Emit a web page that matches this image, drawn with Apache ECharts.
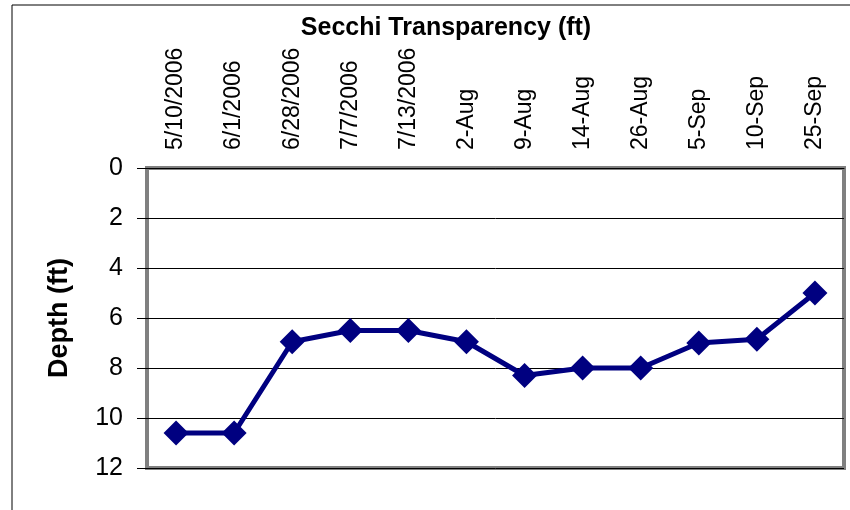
<!DOCTYPE html>
<html>
<head>
<meta charset="utf-8">
<script src="https://cdn.jsdelivr.net/npm/echarts@6/dist/echarts.min.js"></script>
<style>
  html, body { margin: 0; padding: 0; background: #fff; }
  #chart { width: 850px; height: 510px; }
</style>
</head>
<body>
<div id="chart"></div>
<script>
// sampling dates
const dates = ['5/10/2006', '6/1/2006', '6/28/2006', '7/7/2006', '7/13/2006', '2-Aug',
  '9-Aug', '14-Aug', '26-Aug', '5-Sep', '10-Sep', '25-Sep'];
// secchi depth in feet
const depth = [10.6, 10.6, 6.95, 6.5, 6.5, 6.95, 8.3, 8.0, 8.0, 7.0, 6.85, 5.0];

const chart = echarts.init(document.getElementById('chart'));
chart.setOption({
  animation: false,
  backgroundColor: '#fff',
  title: {
    text: 'Secchi Transparency (ft)',
    left: 441, top: 11, textAlign: 'center',
    textStyle: { fontFamily: 'Liberation Sans, Arial', fontSize: 25, fontWeight: 'bold', color: '#000' }
  },
  graphic: [
    { type: 'polyline', shape: { points: [[12, 510], [12, 5], [850, 5]] },
      style: { stroke: '#000', lineWidth: 1, fill: null } }
  ],
  grid: { left: 147, right: 6, top: 168, bottom: 42, show: true, borderColor: '#808080', borderWidth: 4 },
  xAxis: {
    type: 'category', position: 'top', data: dates, boundaryGap: true,
    axisLine: { lineStyle: { color: '#000', width: 1 } },
    axisTick: { length: 8, lineStyle: { color: '#000' } },
    axisLabel: { rotate: 90, margin: 18, fontFamily: 'Liberation Sans, Arial', fontSize: 23, color: '#000' }
  },
  yAxis: {
    type: 'value', inverse: true, min: 0, max: 12, interval: 2,
    name: 'Depth (ft)', nameLocation: 'middle', nameGap: 74, nameRotate: 90,
    nameTextStyle: { fontFamily: 'Liberation Sans, Arial', fontSize: 27, fontWeight: 'bold', color: '#000' },
    axisLine: { show: false },
    axisTick: { show: true, length: 10, lineStyle: { color: '#000' } },
    axisLabel: { margin: 24, fontFamily: 'Liberation Sans, Arial', fontSize: 25, color: '#000' },
    splitLine: { lineStyle: { color: '#000', width: 1 } }
  },
  series: [{
    type: 'line', data: depth,
    symbol: 'diamond', symbolSize: 25,
    lineStyle: { color: '#000080', width: 5 },
    itemStyle: { color: '#000080' }
  }]
});
</script>
</body>
</html>
